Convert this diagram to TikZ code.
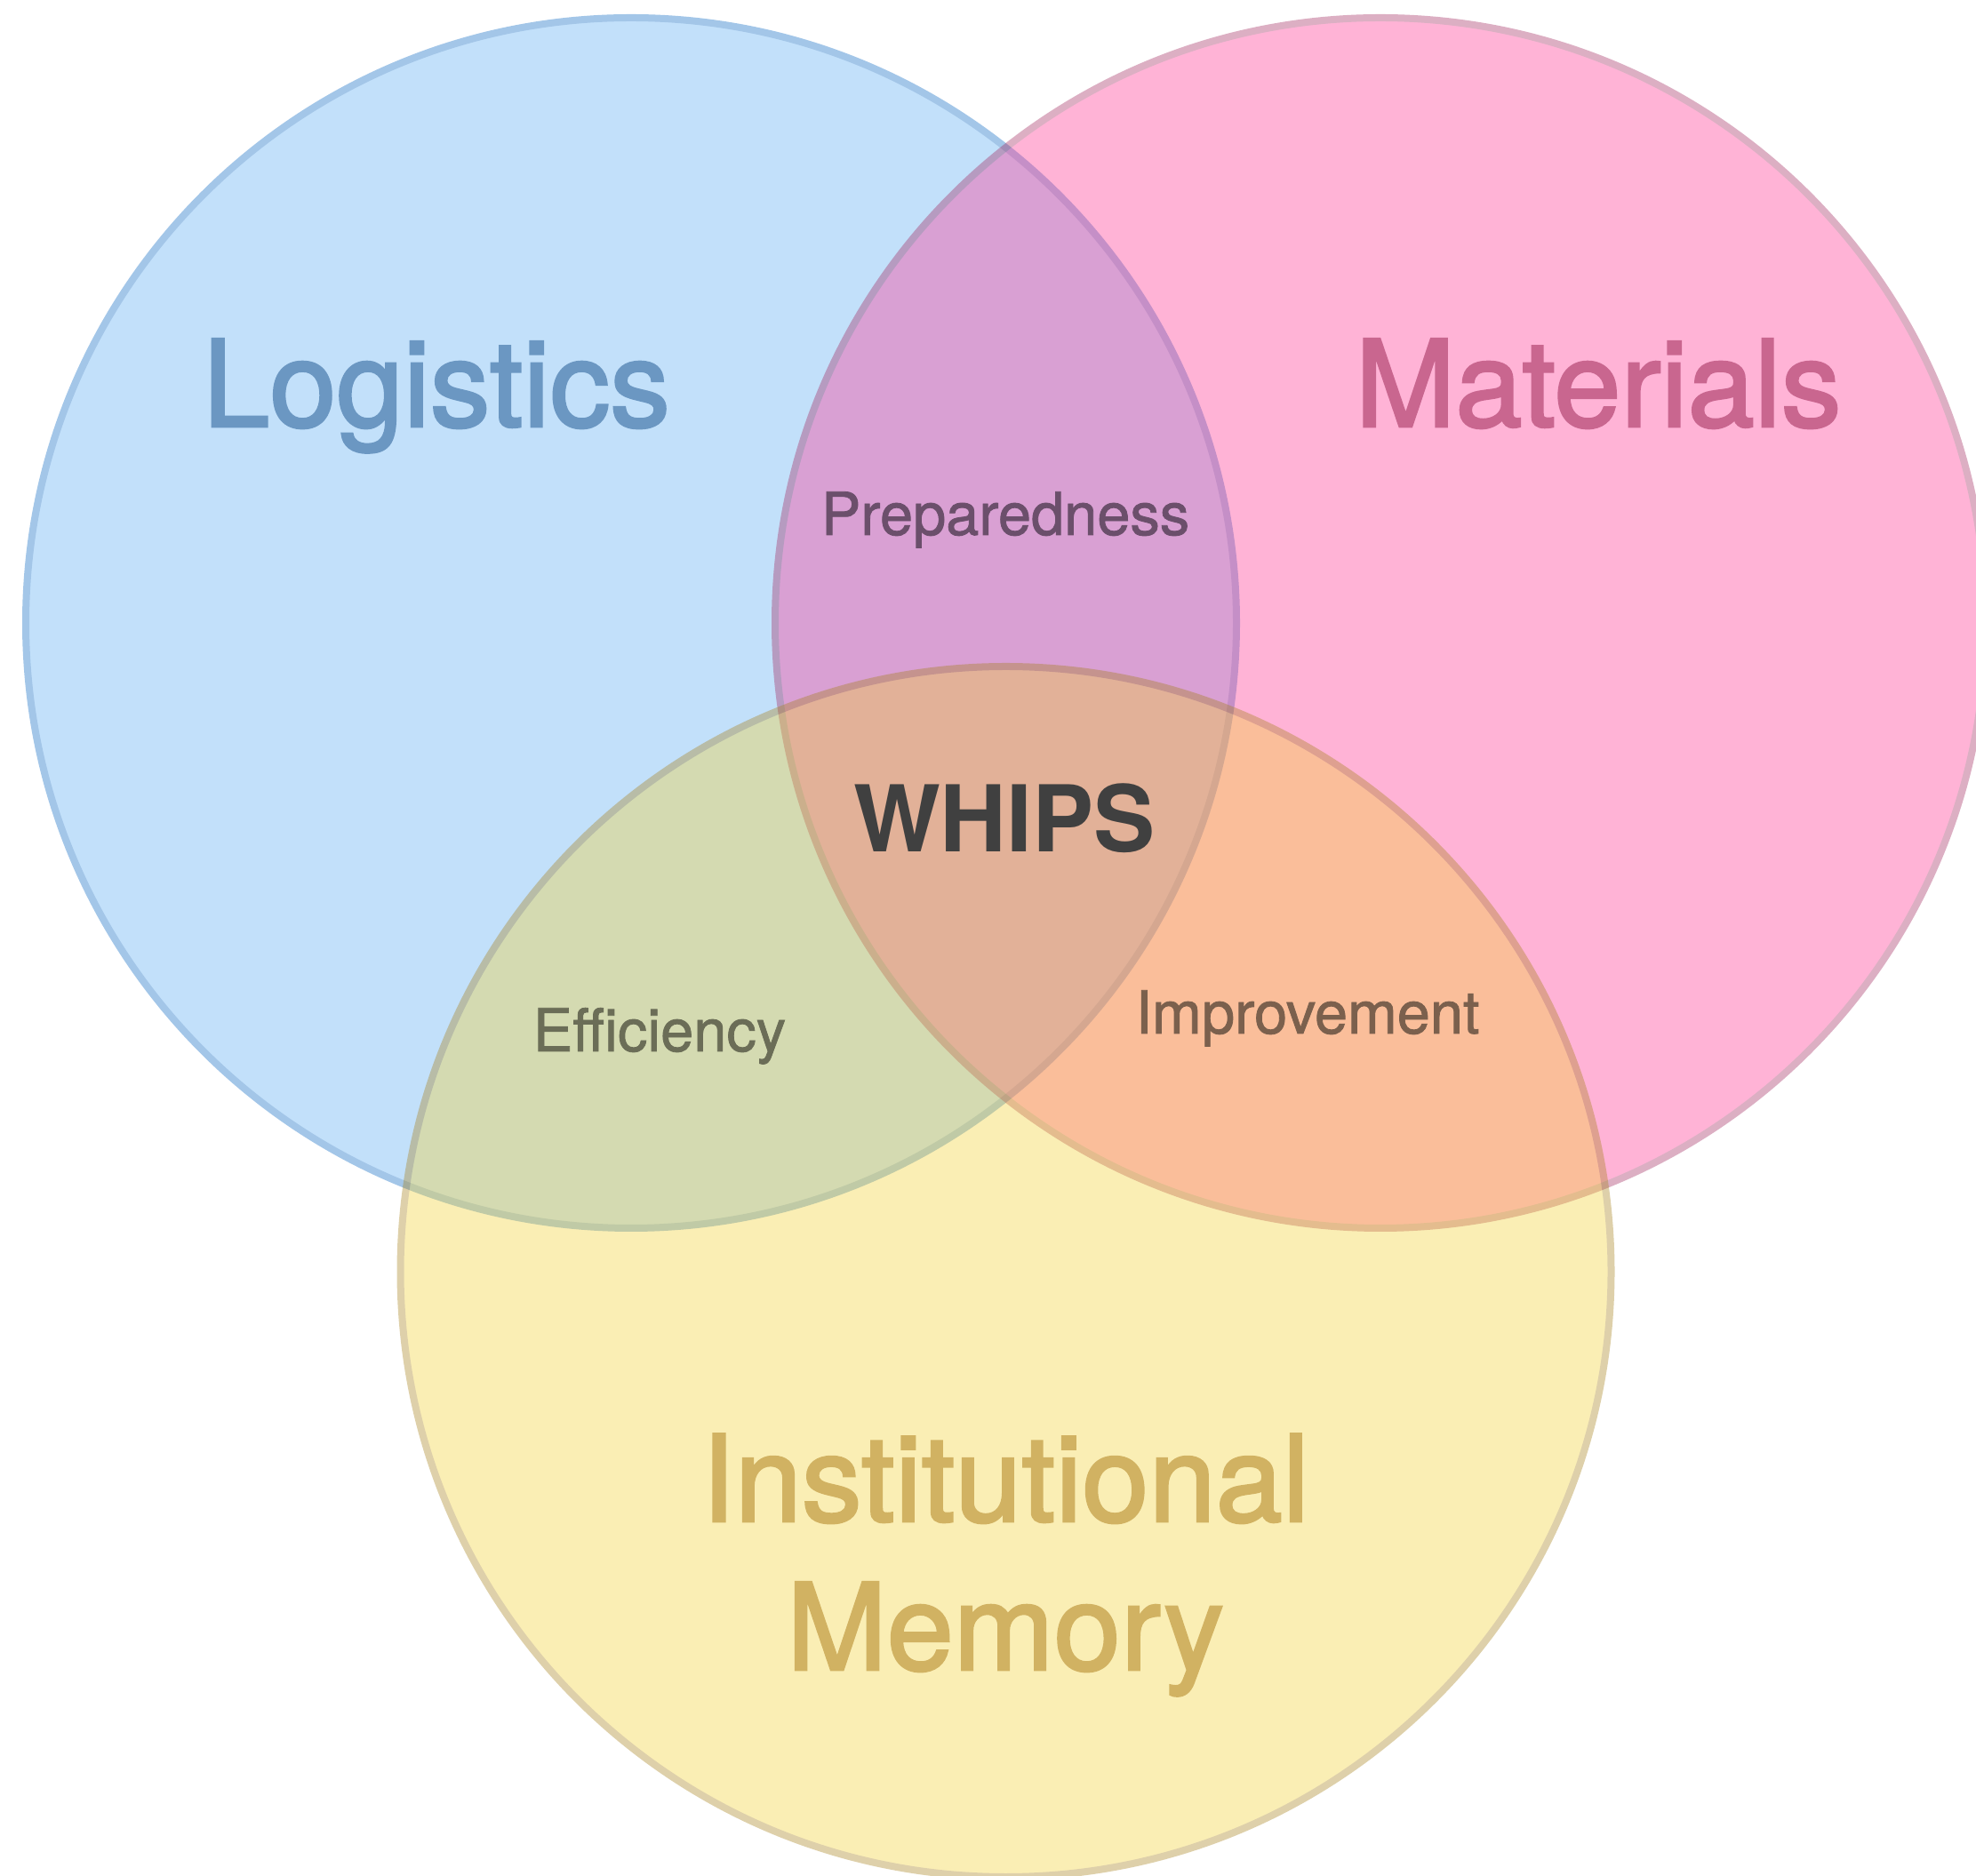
\documentclass[tikz,border=0pt]{standalone}
\usepackage{fontspec}
\setmainfont{TeX Gyre Heros}
\newfontfamily\setfont{TeX Gyre Heros}[FakeBold=2]
\newfontfamily\pairfont{TeX Gyre Heros}[FakeBold=1.2]
\definecolor{logfill}{RGB}{90,171,242}
\definecolor{logline}{RGB}{6,101,193}
\definecolor{matfill}{RGB}{255,50,144}
\definecolor{matline}{RGB}{160,39,93}
\definecolor{memfill}{RGB}{242,209,52}
\definecolor{memline}{RGB}{166,128,25}
\definecolor{logtext}{RGB}{107,151,194}
\definecolor{mattext}{RGB}{201,102,143}
\definecolor{memtext}{RGB}{209,178,98}
\definecolor{preptext}{RGB}{107,79,107}
\definecolor{efftext}{RGB}{107,109,87}
\definecolor{imptext}{RGB}{123,96,77}
\definecolor{coretext}{RGB}{64,64,64}

\begin{document}
\begin{tikzpicture}[
	ring/.style={line width=0.8mm},
	setlabel/.style={font=\setfont\fontsize{38.5}{47.5}\selectfont, anchor=base, align=center},
	pairlabel/.style={font=\pairfont\fontsize{19}{23}\selectfont, anchor=base}
]
	%Frame of the picture
	\useasboundingbox (0,0) rectangle (22.23,21.10);
	\clip (0,0) rectangle (22.23,21.10);

	%Circle of Logistics
	\begin{scope}[transparency group, opacity=0.37]
		\draw [ring, draw=logline, fill=logfill] (7.10,14.09) circle [radius=6.81];
	\end{scope}
	%Circle of Materials
	\begin{scope}[transparency group, opacity=0.37]
		\draw [ring, draw=matline, fill=matfill] (15.53,14.09) circle [radius=6.81];
	\end{scope}
	%Circle of Institutional Memory
	\begin{scope}[transparency group, opacity=0.37]
		\draw [ring, draw=memline, fill=memfill] (11.315,6.79) circle [radius=6.81];
	\end{scope}

	%Names of the sets
	\node [setlabel, text=logtext] (logistics) at (4.91,16.30) {Logistics};
	\node [setlabel, text=mattext] (materials) at (17.98,16.30) {Materials};
	\node [setlabel, text=memtext] (memory) at (11.31,2.31) {Institutional\\Memory};

	%Overlaps of two sets
	\node [pairlabel, text=preptext] (preparedness) at (11.31,15.08) {Preparedness};
	\node [pairlabel, text=efftext] (efficiency) at (7.42,9.27) {Efficiency};
	\node [pairlabel, text=imptext] (improvement) at (14.71,9.47) {Improvement};

	%Overlap of all three
	\node [font=\fontsize{29.5}{35}\selectfont\bfseries, text=coretext, anchor=base] (whips) at (11.30,11.51) {WHIPS};
\end{tikzpicture}
\end{document}
